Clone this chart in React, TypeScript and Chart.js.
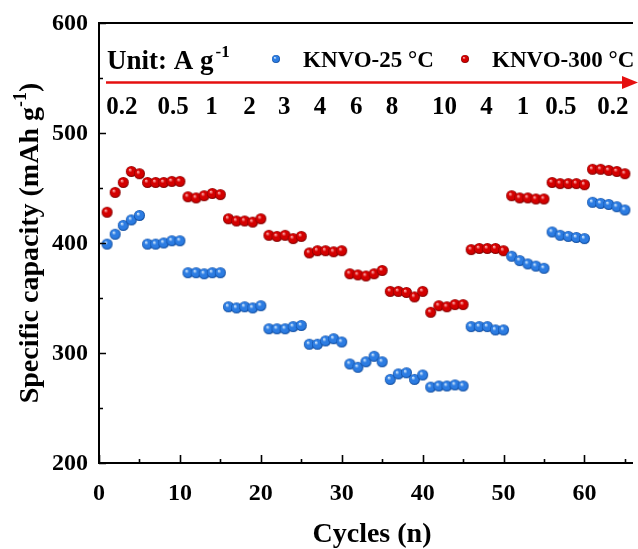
import React, { useEffect, useRef } from 'react';
import { Chart, registerables } from 'chart.js';

Chart.register(...registerables);

// ---------------- data ----------------
const cycles = [
  1, 2, 3, 4, 5, 6, 7, 8, 9, 10, 11, 12, 13, 14, 15, 16, 17, 18, 19, 20,
  21, 22, 23, 24, 25, 26, 27, 28, 29, 30, 31, 32, 33, 34, 35, 36, 37, 38, 39, 40,
  41, 42, 43, 44, 45, 46, 47, 48, 49, 50, 51, 52, 53, 54, 55, 56, 57, 58, 59, 60,
  61, 62, 63, 64, 65,
];

const knvo25 = [
  399, 408, 416, 421, 425,
  399, 399, 400, 402, 402,
  373, 373, 372, 373, 373,
  342, 341, 342, 341, 343,
  322, 322, 322, 324, 325,
  308, 308, 311, 313, 310,
  290, 287, 292, 297, 292,
  276, 281, 282, 276, 280,
  269, 270, 270, 271, 270,
  324, 324, 324, 321, 321,
  388, 384, 381, 379, 377,
  410, 407, 406, 405, 404,
  437, 436, 435, 433, 430,
];

const knvo300 = [
  428, 446, 455, 465, 463,
  455, 455, 455, 456, 456,
  442, 441, 443, 445, 444,
  422, 420, 420, 419, 422,
  407, 406, 407, 404, 406,
  391, 393, 393, 392, 393,
  372, 371, 370, 372, 375,
  356, 356, 355, 351, 356,
  337, 343, 342, 344, 344,
  394, 395, 395, 395, 393,
  443, 441, 441, 440, 440,
  455, 454, 454, 454, 453,
  467, 467, 466, 465, 463,
];

const seriesNames = ['KNVO-25 °C', 'KNVO-300 °C'];
const xTickValues = [0, 10, 20, 30, 40, 50, 60];
const xMinorTicks = [5, 15, 25, 35, 45, 55, 65];
const yTickValues = [200, 300, 400, 500, 600];
const yMinorTicks = [250, 350, 450, 550];
const rateLabels = ['0.2', '0.5', '1', '2', '3', '4', '6', '8', '10', '4', '1', '0.5', '0.2'];
const unitText = 'Unit: A g';
const unitSup = '-1';
const xTitle = 'Cycles (n)';
const yTitleMain = 'Specific capacity (mAh g';
const yTitleSup = '-1';
const yTitleEnd = ')';

// ---------------- layout (not data) ----------------
const rateLabelAt = [2.84, 9.15, 13.9, 18.6, 22.9, 27.3, 31.8, 36.2, 42.7, 47.9, 52.4, 57.1, 63.5];

const FONT = '"Liberation Serif", "Times New Roman", Times, serif';
const BLUE = { hi: '#dcefff', base: '#2c7ce2', dark: '#0a4596' };
const RED = { hi: '#ffb8b8', base: '#d40000', dark: '#760000' };

function makeSphere(r: number, c: { hi: string; base: string; dark: string }) {
  const s = Math.ceil(r * 2) + 2;
  const cv = document.createElement('canvas');
  cv.width = s;
  cv.height = s;
  const ctx = cv.getContext('2d')!;
  const cx = s / 2;
  const cy = s / 2;
  const g = ctx.createRadialGradient(cx - r * 0.3, cy - r * 0.35, r * 0.05, cx, cy, r);
  g.addColorStop(0, c.hi);
  g.addColorStop(0.35, c.base);
  g.addColorStop(0.75, c.base);
  g.addColorStop(1, c.dark);
  ctx.fillStyle = g;
  ctx.beginPath();
  ctx.arc(cx, cy, r, 0, Math.PI * 2);
  ctx.fill();
  return cv;
}

function drawLegendSphere(ctx: CanvasRenderingContext2D, x: number, y: number, r: number, c: { hi: string; base: string; dark: string }) {
  const g = ctx.createRadialGradient(x - r * 0.3, y - r * 0.35, r * 0.05, x, y, r);
  g.addColorStop(0, c.hi);
  g.addColorStop(0.35, c.base);
  g.addColorStop(0.75, c.base);
  g.addColorStop(1, c.dark);
  ctx.fillStyle = g;
  ctx.beginPath();
  ctx.arc(x, y, r, 0, Math.PI * 2);
  ctx.fill();
}

const overlay = {
  id: 'overlay',
  afterDraw(chart: any) {
    const { ctx, chartArea: a } = chart;
    const x = chart.scales.x;
    const y = chart.scales.y;
    ctx.save();
    // frame / axes
    ctx.strokeStyle = '#000';
    ctx.lineWidth = 2;
    ctx.beginPath();
    ctx.moveTo(a.left - 1, a.top);
    ctx.lineTo(a.right, a.top);
    ctx.moveTo(a.left, a.top);
    ctx.lineTo(a.left, a.bottom);
    ctx.moveTo(a.left - 1, a.bottom);
    ctx.lineTo(a.right, a.bottom);
    ctx.stroke();

    // ticks (inward)
    ctx.lineWidth = 1.6;
    ctx.beginPath();
    xTickValues.forEach((v) => {
      const px = Math.round(x.getPixelForValue(v)) + 0.5;
      ctx.moveTo(px, a.bottom);
      ctx.lineTo(px, a.bottom - 8);
    });
    xMinorTicks.forEach((v) => {
      const px = Math.round(x.getPixelForValue(v)) + 0.5;
      ctx.moveTo(px, a.bottom);
      ctx.lineTo(px, a.bottom - 4);
    });
    yTickValues.forEach((v) => {
      const py = Math.round(y.getPixelForValue(v)) + 0.5;
      ctx.moveTo(a.left, py);
      ctx.lineTo(a.left + 7, py);
    });
    yMinorTicks.forEach((v) => {
      const py = Math.round(y.getPixelForValue(v)) + 0.5;
      ctx.moveTo(a.left, py);
      ctx.lineTo(a.left + 4, py);
    });
    ctx.stroke();

    // tick labels
    ctx.fillStyle = '#000';
    ctx.font = `bold 24px ${FONT}`;
    ctx.textAlign = 'center';
    ctx.textBaseline = 'alphabetic';
    xTickValues.forEach((v) => {
      ctx.fillText(String(v), x.getPixelForValue(v), 500);
    });
    ctx.textAlign = 'right';
    ctx.textBaseline = 'middle';
    yTickValues.forEach((v) => {
      ctx.fillText(String(v), a.left - 11, y.getPixelForValue(v) + 1);
    });

    // x title
    ctx.font = `bold 28px ${FONT}`;
    ctx.textAlign = 'center';
    ctx.textBaseline = 'alphabetic';
    ctx.fillText(xTitle, 372, 542);

    // y title (rotated)
    ctx.save();
    ctx.translate(38, (a.top + a.bottom) / 2);
    ctx.rotate(-Math.PI / 2);
    ctx.font = `bold 28px ${FONT}`;
    const w1 = ctx.measureText(yTitleMain).width;
    ctx.font = `bold 18px ${FONT}`;
    const w2 = ctx.measureText(yTitleSup).width;
    ctx.font = `bold 28px ${FONT}`;
    const w3 = ctx.measureText(yTitleEnd).width;
    let sx = -(w1 + w2 + w3) / 2;
    ctx.textAlign = 'left';
    ctx.fillText(yTitleMain, sx, 0);
    sx += w1;
    ctx.font = `bold 18px ${FONT}`;
    ctx.fillText(yTitleSup, sx, -12);
    sx += w2;
    ctx.font = `bold 28px ${FONT}`;
    ctx.fillText(yTitleEnd, sx, 0);
    ctx.restore();

    // Unit text
    ctx.textAlign = 'left';
    ctx.font = `bold 27px ${FONT}`;
    ctx.fillText(unitText, 107, 69);
    const uw = ctx.measureText(unitText).width;
    ctx.font = `bold 17px ${FONT}`;
    ctx.fillText(unitSup, 107 + uw + 2, 57);

    // legend
    drawLegendSphere(ctx, 276, 59, 4, BLUE);
    drawLegendSphere(ctx, 465, 59, 4, RED);
    ctx.fillStyle = '#000';
    ctx.font = `bold 23px ${FONT}`;
    ctx.fillText(seriesNames[0], 303, 67);
    ctx.fillText(seriesNames[1], 492, 67);

    // arrow
    ctx.strokeStyle = '#e50f0f';
    ctx.fillStyle = '#e50f0f';
    ctx.lineWidth = 2.5;
    ctx.beginPath();
    ctx.moveTo(106, 82.5);
    ctx.lineTo(626, 82.5);
    ctx.stroke();
    ctx.beginPath();
    ctx.moveTo(622, 76);
    ctx.lineTo(638, 82.5);
    ctx.lineTo(622, 89);
    ctx.closePath();
    ctx.fill();

    // rate labels
    ctx.fillStyle = '#000';
    ctx.font = `bold 25px ${FONT}`;
    ctx.textAlign = 'center';
    rateLabels.forEach((t, i) => {
      ctx.fillText(t, x.getPixelForValue(rateLabelAt[i]), 114);
    });

    ctx.restore();
  },
};

export default function App() {
  const ref = useRef<HTMLCanvasElement | null>(null);
  useEffect(() => {
    document.body.style.margin = '0';
    const blueImg = makeSphere(5.5, BLUE);
    const redImg = makeSphere(5.5, RED);
    const chart = new Chart(ref.current!, {
      type: 'scatter',
      data: {
        datasets: [
          {
            label: seriesNames[0],
            data: cycles.map((c, i) => ({ x: c, y: knvo25[i] })),
            pointStyle: blueImg as any,
            showLine: false,
            order: 0,
          },
          {
            label: seriesNames[1],
            data: cycles.map((c, i) => ({ x: c, y: knvo300[i] })),
            pointStyle: redImg as any,
            showLine: false,
            order: 1,
          },
        ],
      },
      options: {
        responsive: false,
        animation: false,
        layout: { padding: { left: 99, top: 23, right: 0, bottom: 86 } },
        plugins: { legend: { display: false }, tooltip: { enabled: false } },
        scales: {
          x: { type: 'linear', min: 0, max: 66, display: false },
          y: { type: 'linear', min: 200, max: 600, display: false },
        },
      },
      plugins: [overlay],
    });
    return () => chart.destroy();
  }, []);
  return (
    <div style={{ width: 638, height: 549, background: '#fff' }}>
      <canvas ref={ref} width={638} height={549} style={{ display: 'block' }} />
    </div>
  );
}
